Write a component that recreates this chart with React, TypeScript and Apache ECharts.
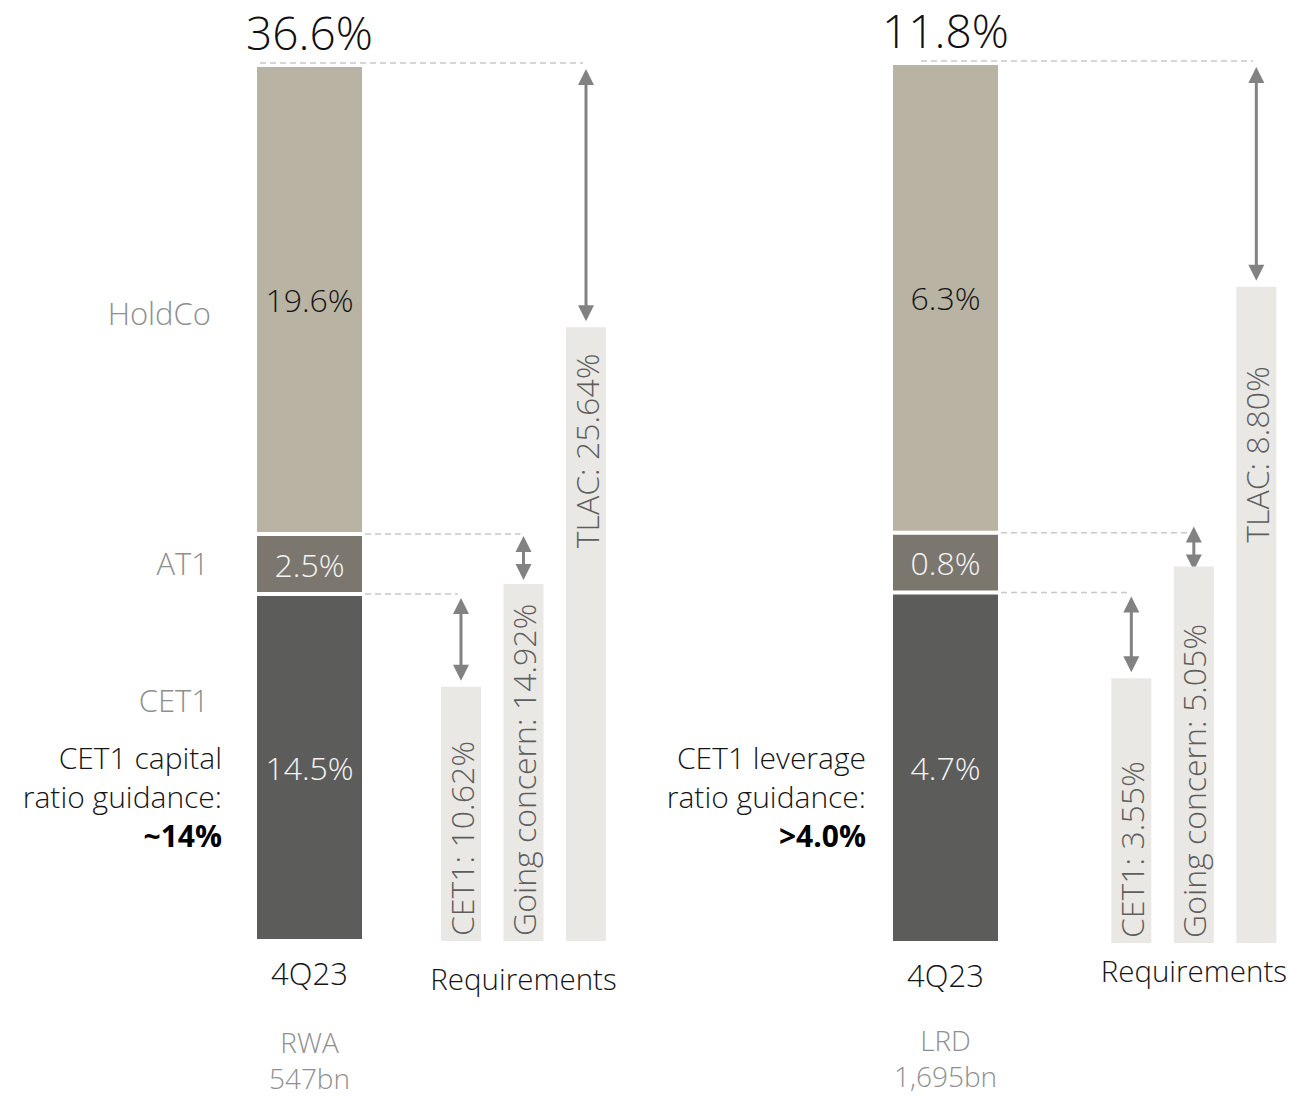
import React, { useEffect, useRef } from 'react';
import * as echarts from 'echarts';

// ---------- data ----------
const categories = ['4Q23', 'Requirements'];
const segmentNames = ['CET1', 'AT1', 'HoldCo'];
const reqNames = ['CET1', 'Going concern', 'TLAC'];

const rwaSegments = [14.5, 2.5, 19.6];
const rwaTotal = 36.6;
const rwaReqValues = [10.62, 14.92, 25.64];
const rwaDenominator = ['RWA', '547bn'];
const rwaGuidance = ['CET1 capital', 'ratio guidance:', '~14%'];

const lrdSegments = [4.7, 0.8, 6.3];
const lrdTotal = 11.8;
const lrdReqValues = [3.55, 5.05, 8.8];
const lrdDenominator = ['LRD', '1,695bn'];
const lrdGuidance = ['CET1 leverage', 'ratio guidance:', '>4.0%'];

const sideLabels = ['HoldCo', 'AT1', 'CET1'];

// ---------- styles ----------
const FONT = '"Open Sans", "Noto Sans", sans-serif';
const segColors = ['#5c5d5b', '#7b776f', '#b9b3a4'];
const segLabelColors = ['#f4f4f4', '#f4f4f4', '#151515'];
const REQ_COLOR = '#e9e8e4';
const REQ_TEXT = '#5e5e5e';
const ARROW = '#828282';
const DASH = '#c8c8c8';
const GRAY = '#8f8f8f';
const MAIN_W = 109;
const REQ_W = 40;
const REQ_SPACING = 62.5;
const MIN_ARROW = 44;

const panels = [
  {
    seg: rwaSegments, total: rwaTotal, req: rwaReqValues, denom: rwaDenominator, guidance: rwaGuidance,
    grid: { left: 309.5, width: 214, top: 65, height: 878 },
    reqLabelLH: 50, denomMargin: 83, tlacPos: '36%', topDashInset: 5, guidanceX: 222,
  },
  {
    seg: lrdSegments, total: lrdTotal, req: lrdReqValues, denom: lrdDenominator, guidance: lrdGuidance,
    grid: { left: 945.5, width: 249.5, top: 63, height: 880 },
    reqLabelLH: 30, denomMargin: 79, tlacPos: '39%', topDashInset: 30, guidanceX: 866,
  },
];

function buildOption() {
  const grid: any[] = [];
  const xAxis: any[] = [];
  const yAxis: any[] = [];
  const series: any[] = [];
  const graphic: any[] = [];

  panels.forEach((p, pi) => {
    grid.push({ ...p.grid });
    const axA = pi * 2;
    const axB = pi * 2 + 1;
    xAxis.push({
      type: 'category', gridIndex: pi, data: categories, boundaryGap: false, position: 'bottom',
      axisLine: { show: false }, axisTick: { show: false }, splitLine: { show: false },
      axisLabel: {
        interval: 0, margin: 12,
        formatter: (v: string, i: number) => (i === 0 ? `{a|${v}}` : `{r|${v}}`),
        rich: {
          a: { fontSize: 31, lineHeight: 40, color: '#151515', fontFamily: FONT, fontWeight: 300 },
          r: { fontSize: 29.5, lineHeight: p.reqLabelLH, color: '#151515', fontFamily: FONT, fontWeight: 300 },
        },
      },
    });
    xAxis.push({
      type: 'category', gridIndex: pi, data: categories, boundaryGap: false, position: 'bottom',
      axisLine: { show: false }, axisTick: { show: false }, splitLine: { show: false },
      axisLabel: {
        interval: 0, margin: p.denomMargin, color: GRAY, fontSize: 28, lineHeight: 36,
        fontFamily: FONT, fontWeight: 300,
        formatter: (_v: string, i: number) => (i === 0 ? p.denom.join('\n') : ''),
      },
    });
    yAxis.push({ type: 'value', gridIndex: pi, min: 0, max: p.total, show: false });

    // main stacked bar
    p.seg.forEach((v, si) => {
      series.push({
        type: 'bar', name: segmentNames[si], xAxisIndex: axA, yAxisIndex: pi, stack: 'main' + pi,
        barWidth: MAIN_W, data: [v, '-'],
        itemStyle: { color: segColors[si], borderColor: '#ffffff', borderWidth: 2 },
        label: {
          show: true, position: 'inside', formatter: (d: any) => `${Number(d.value).toFixed(1)}%`,
          fontSize: 32, color: segLabelColors[si], fontFamily: FONT, fontWeight: 300,
        },
      });
    });

    // requirement bars
    p.req.forEach((v, ri) => {
      const isTlac = ri === 2;
      series.push({
        type: 'bar', name: reqNames[ri], xAxisIndex: axB, yAxisIndex: pi,
        barWidth: REQ_W, barGap: `${((REQ_SPACING - REQ_W) / REQ_W) * 100}%`, data: ['-', v],
        itemStyle: { color: REQ_COLOR },
        label: {
          show: true,
          position: isTlac ? ['50%', p.tlacPos] : 'insideBottom',
          distance: 5, rotate: 90, align: 'left', verticalAlign: 'middle',
          formatter: (d: any) => `${reqNames[ri]}: ${Number(d.value).toFixed(2)}%`,
          fontSize: 32, color: REQ_TEXT, fontFamily: FONT, fontWeight: 300,
        },
      });
    });

    // arrows + dashed leader lines
    const levels = [p.seg[0], p.seg[0] + p.seg[1], p.total];
    series.push({
      type: 'custom', xAxisIndex: axB, yAxisIndex: pi, clip: false, silent: true,
      encode: { x: 0, y: 1 },
      data: p.req.map((r, i) => [1, levels[i], r, i]),
      renderItem: (_params: any, api: any) => {
        const idx = api.value(3);
        const level = api.value(1);
        const req = api.value(2);
        const pLevel = api.coord([1, level]);
        const pReq = api.coord([1, req]);
        const pMain = api.coord([0, level]);
        const x = pLevel[0] + (idx - 1) * REQ_SPACING;
        const isTop = idx === 2;
        const yDash = pLevel[1] - (isTop ? 2 : 0);
        const x0 = isTop ? pMain[0] - MAIN_W / 2 + p.topDashInset : pMain[0] + MAIN_W / 2 + 1;
        let yTop = pLevel[1] + 4;
        let yBot = pReq[1] - 6;
        if (yBot - yTop < MIN_ARROW) {
          const mid = (yTop + yBot) / 2;
          yTop = mid - MIN_ARROW / 2;
          yBot = mid + MIN_ARROW / 2;
        }
        return {
          type: 'group',
          children: [
            { type: 'line', shape: { x1: x0, y1: yDash, x2: x - 3, y2: yDash }, style: { stroke: DASH, lineWidth: 1.5, lineDash: [6, 4] } },
            { type: 'line', shape: { x1: x, y1: yTop + 10, x2: x, y2: yBot - 10 }, style: { stroke: ARROW, lineWidth: 3 } },
            { type: 'polygon', shape: { points: [[x, yTop], [x - 8, yTop + 16], [x + 8, yTop + 16]] }, style: { fill: ARROW } },
            { type: 'polygon', shape: { points: [[x, yBot], [x - 8, yBot - 16], [x + 8, yBot - 16]] }, style: { fill: ARROW } },
          ],
        };
      },
    });

    // total label on top of the main bar
    series.push({
      type: 'custom', xAxisIndex: axA, yAxisIndex: pi, clip: false, silent: true,
      encode: { x: 0, y: 1 },
      data: [[0, p.total]],
      renderItem: (_params: any, api: any) => {
        const pt = api.coord([api.value(0), api.value(1)]);
        return {
          type: 'text', x: pt[0], y: pt[1] - 33,
          style: {
            text: `${Number(api.value(1)).toFixed(1)}%`, fontSize: 46, fill: '#111111',
            align: 'center', verticalAlign: 'middle', fontFamily: FONT, fontWeight: 300,
          },
        };
      },
    });

    // guidance text
    graphic.push({
      type: 'text', x: p.guidanceX, y: 796,
      style: {
        text: `{n|${p.guidance[0]}}\n{n|${p.guidance[1]}}\n{b|${p.guidance[2]}}`,
        align: 'right', verticalAlign: 'middle',
        rich: {
          n: { fontSize: 30, lineHeight: 39, fill: '#151515', fontFamily: FONT, fontWeight: 300, align: 'right' },
          b: { fontSize: 30, lineHeight: 39, fill: '#000000', fontFamily: FONT, fontWeight: 'bold', align: 'right' },
        },
      },
    });
  });

  // side labels of the left panel
  const sideY = [313, 563, 700];
  sideLabels.forEach((t, i) => {
    graphic.push({
      type: 'text', x: i === 0 ? 211 : 209, y: sideY[i],
      style: { text: t, fontSize: 31, fill: GRAY, align: 'right', verticalAlign: 'middle', fontFamily: FONT, fontWeight: 300 },
    });
  });

  return { animation: false, backgroundColor: '#ffffff', grid, xAxis, yAxis, series, graphic };
}

export default function App() {
  const ref = useRef<HTMLDivElement>(null);
  useEffect(() => {
    if (!ref.current) return;
    const chart = echarts.init(ref.current, undefined, { renderer: 'svg' });
    chart.setOption(buildOption());
    return () => chart.dispose();
  }, []);
  return <div ref={ref} style={{ position: 'absolute', left: 0, top: 0, width: 1290, height: 1096 }} />;
}
